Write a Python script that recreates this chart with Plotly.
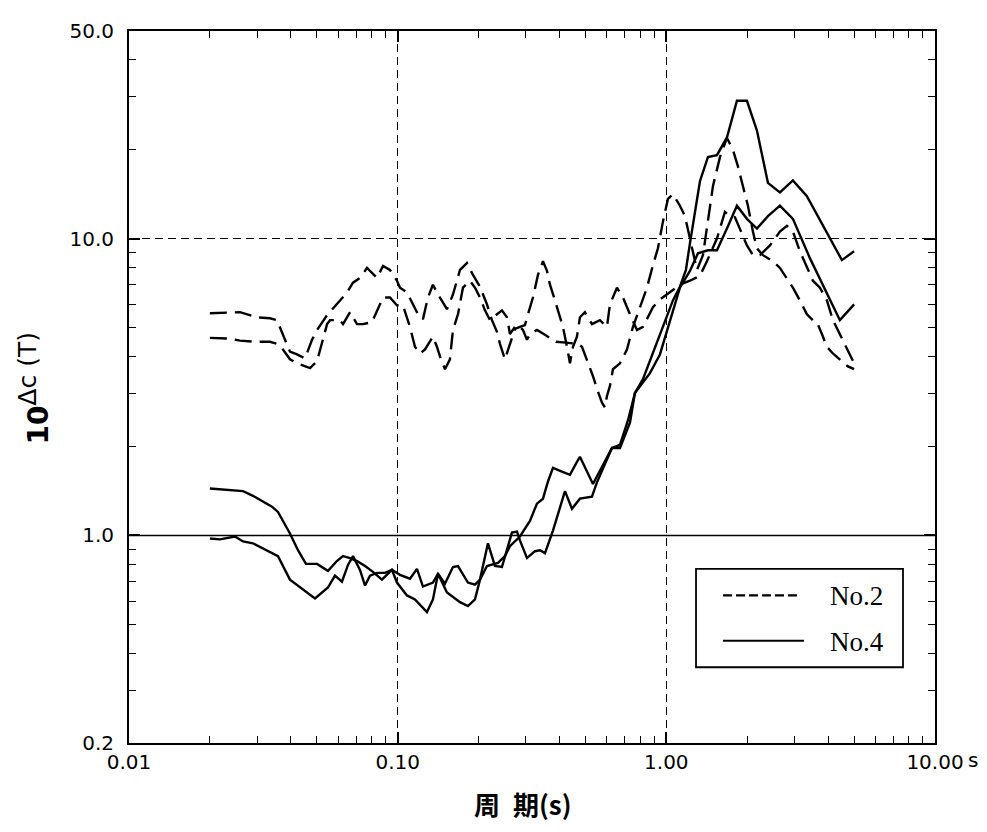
import plotly.graph_objects as go
import math

# ---- data (period in s, 10^dc) ----
no2_a_T = [0.0200, 0.02376, 0.02589, 0.02995, 0.03347, 0.03555, 0.03742, 0.03973, 0.0422, 0.0452,
           0.0480, 0.0501, 0.0546, 0.0594, 0.0648, 0.0682, 0.0724, 0.0769, 0.0838, 0.0882,
           0.0936, 0.0994, 0.1020, 0.1083, 0.1130, 0.1190, 0.1242, 0.1296, 0.1353, 0.1413,
           0.1526, 0.1606, 0.1706, 0.1811, 0.1907, 0.2025, 0.2150, 0.2244, 0.2342, 0.2403,
           0.2508, 0.2618, 0.2732, 0.2852, 0.2977, 0.3055, 0.3188, 0.3328, 0.3474, 0.3595,
           0.3689, 0.3850, 0.4019, 0.4123, 0.4267, 0.4378, 0.4493, 0.4648, 0.4769, 0.4978,
           0.5286, 0.5661, 0.6012, 0.6168, 0.6549, 0.6895, 0.7321, 0.7773, 0.8184, 0.8543,
           0.8916, 0.9466, 1.0051, 1.0581, 1.1236, 1.2242, 1.3339, 1.4163, 1.5431, 1.6525,
           1.7249, 1.8004, 1.8792, 1.9953, 2.1007, 2.2305, 2.4299, 2.6473, 2.8107, 2.9590,
           3.1418, 3.3357, 3.5119, 3.7290, 3.9600, 4.1688, 4.4259, 4.6998, 5.0]
no2_a_v = [5.60, 5.65, 5.65, 5.43, 5.39, 5.31, 4.77, 4.16, 4.07, 3.95,
           4.56, 4.92, 5.52, 6.00, 6.58, 7.10, 7.37, 7.96, 7.37, 8.08,
           7.84, 7.21, 6.83, 6.58, 6.09, 5.56, 5.35, 6.33, 6.99, 6.48,
           5.78, 6.48, 7.84, 8.27, 7.54, 6.88, 6.00, 5.31, 4.85, 4.42,
           3.92, 4.42, 4.96, 5.04, 5.11, 5.56, 6.33, 7.54, 8.39, 7.78,
           6.99, 6.19, 5.43, 5.04, 4.32, 3.80, 4.32, 4.67, 5.43, 5.65,
           5.15, 5.31, 5.04, 6.00, 6.83, 6.33, 5.56, 4.92, 5.04, 5.43,
           5.87, 6.23, 6.48, 6.68, 6.99, 7.21, 7.49, 8.39, 10.0, 12.3,
           11.9, 11.8, 10.8, 9.48, 8.79, 8.79, 9.48, 10.55, 11.04, 10.55,
           9.06, 7.96, 7.21, 6.83, 6.19, 5.31, 4.77, 4.23, 3.80]

no2_b_T = [0.0200, 0.02376, 0.02589, 0.02995, 0.03347, 0.03555, 0.03742, 0.03973, 0.0422, 0.0472,
           0.0501, 0.0527, 0.0546, 0.0560, 0.0610, 0.0626, 0.0665, 0.0706, 0.0743, 0.0802,
           0.0845, 0.0882, 0.0936, 0.0994, 0.1046, 0.1111, 0.1160, 0.1211, 0.1264, 0.1353,
           0.1400, 0.1437, 0.1500, 0.1565, 0.1606, 0.1677, 0.1750, 0.1858, 0.1940, 0.2025,
           0.2113, 0.2206, 0.2342, 0.2444, 0.2551, 0.2618, 0.2732, 0.2804, 0.2927, 0.3029,
           0.3107, 0.3299, 0.3534, 0.3883, 0.4229, 0.4688, 0.4852, 0.5065, 0.5332, 0.5518,
           0.5760, 0.5910, 0.6012, 0.6168, 0.6329, 0.6721, 0.7135, 0.7512, 0.7976, 0.8470,
           0.8916, 0.9305, 0.9713, 1.0138, 1.0581, 1.1236, 1.1728, 1.2242, 1.2561, 1.3000,
           1.3686, 1.4285, 1.4910, 1.5832, 1.6811, 1.7698, 1.8473, 1.9281, 2.0125, 2.1007,
           2.1739, 2.2886, 2.3886, 2.4933, 2.6473, 2.8107, 2.9590, 3.1418, 3.3357, 3.5119,
           3.6343, 3.7935, 3.9600, 4.1688, 4.4259, 4.7402, 5.0]
no2_b_v = [4.63, 4.60, 4.53, 4.49, 4.49, 4.42, 4.23, 3.92, 3.80, 3.66,
           3.86, 4.56, 5.15, 5.31, 5.31, 5.15, 5.65, 5.15, 5.15, 5.23,
           5.78, 6.33, 6.33, 5.96, 5.96, 5.04, 4.32, 4.10, 4.23, 4.67,
           4.32, 4.01, 3.63, 3.92, 4.92, 5.56, 6.83, 7.21, 6.83, 6.33,
           5.73, 5.31, 5.56, 5.73, 5.43, 4.77, 5.04, 5.11, 4.92, 4.56,
           4.77, 4.92, 4.74, 4.49, 4.46, 4.42, 4.32, 3.92, 3.44, 3.12,
           2.80, 2.70, 2.95, 3.19, 3.63, 3.80, 4.23, 5.04, 5.87, 6.83,
           8.14, 9.27, 11.4, 13.6, 14.1, 12.9, 11.9, 10.0, 8.79, 7.84,
           8.79, 11.65, 15.0, 18.8, 21.8, 19.9, 17.5, 15.0, 12.9, 10.55,
           9.27, 8.79, 8.59, 8.39, 7.96, 7.37, 6.83, 6.19, 5.56, 5.31,
           5.23, 4.77, 4.32, 4.10, 3.92, 3.71, 3.63]

no4_a_T = [0.0200, 0.02657, 0.02894, 0.03405, 0.03585, 0.03973, 0.04256, 0.04557, 0.0501, 0.05503,
           0.0594, 0.0626, 0.0665, 0.0706, 0.0756, 0.0809, 0.0874, 0.0952, 0.1020, 0.1111,
           0.1180, 0.1242, 0.1353, 0.1413, 0.1500, 0.1606, 0.1677, 0.1826, 0.1940, 0.2025,
           0.2168, 0.2302, 0.2444, 0.2663, 0.2780, 0.2852, 0.3029, 0.3243, 0.3385, 0.3534,
           0.3785, 0.4195, 0.4454, 0.4769, 0.5286, 0.5518, 0.6275, 0.6721, 0.7196, 0.7641,
           0.8184, 0.9466, 1.0581, 1.1236, 1.1829, 1.2242, 1.2778, 1.3339, 1.4285, 1.5431,
           1.6811, 1.8315, 1.9953, 2.1739, 2.3886, 2.6473, 2.9590, 3.3357, 4.5024, 5.0]
no4_a_v = [1.44, 1.41, 1.36, 1.25, 1.20, 1.015, 0.892, 0.802, 0.802, 0.760,
           0.820, 0.852, 0.839, 0.820, 0.789, 0.754, 0.710, 0.766, 0.737, 0.715,
           0.772, 0.673, 0.694, 0.743, 0.688, 0.783, 0.789, 0.694, 0.683, 0.710,
           0.941, 0.789, 0.783, 1.023, 1.031, 0.963, 0.839, 0.885, 0.892, 0.872,
           1.039, 1.41, 1.23, 1.33, 1.35, 1.51, 1.97, 2.02, 2.44, 3.02,
           3.36, 4.77, 6.19, 6.88, 7.84, 9.63, 12.3, 15.6, 18.8, 19.1,
           21.9, 29.1, 29.1, 23.1, 15.4, 14.3, 15.7, 13.9, 8.46, 9.06]

no4_b_T = [0.0200, 0.02181, 0.0248, 0.02657, 0.02894, 0.03263, 0.03585, 0.03973, 0.04329, 0.04923,
           0.05503, 0.05843, 0.06204, 0.06533, 0.0682, 0.0724, 0.0756, 0.0789, 0.0838, 0.0897,
           0.0952, 0.0994, 0.1083, 0.1160, 0.1285, 0.1353, 0.1413, 0.1526, 0.1706, 0.1826,
           0.1940, 0.2025, 0.2150, 0.2362, 0.2508, 0.2618, 0.2852, 0.3107, 0.3299, 0.3474,
           0.3626, 0.3785, 0.4088, 0.4378, 0.4648, 0.4769, 0.5332, 0.5566, 0.6275, 0.6721,
           0.7321, 0.7641, 0.8690, 0.9466, 1.0313, 1.1236, 1.2242, 1.3112, 1.4285, 1.5431,
           1.6811, 1.8315, 1.9953, 2.1739, 2.3886, 2.6473, 2.9590, 3.4225, 4.4259, 5.0]
no4_b_v = [0.977, 0.970, 0.992, 0.955, 0.941, 0.892, 0.852, 0.710, 0.668, 0.614,
           0.668, 0.732, 0.699, 0.796, 0.852, 0.766, 0.678, 0.732, 0.748, 0.748,
           0.766, 0.694, 0.628, 0.609, 0.552, 0.609, 0.743, 0.643, 0.596, 0.578,
           0.609, 0.710, 0.789, 0.808, 0.852, 0.920, 0.992, 1.12, 1.28, 1.33,
           1.52, 1.69, 1.64, 1.60, 1.77, 1.84, 1.49, 1.60, 1.97, 1.97,
           2.40, 3.02, 3.52, 4.07, 5.31, 6.83, 7.78, 8.92, 9.13, 9.13,
           10.8, 12.9, 11.65, 10.8, 11.9, 12.9, 11.65, 8.59, 5.31, 6.00]

x_tickvals = [0.01, 0.1, 1, 10]
x_ticktext = ["0.01", "0.10", "1.00", "10.00"]
x_minor = [0.02, 0.03, 0.04, 0.05, 0.06, 0.07, 0.08, 0.09,
           0.2, 0.3, 0.4, 0.5, 0.6, 0.7, 0.8, 0.9,
           2, 3, 4, 5, 6, 7, 8, 9]
y_tickvals = [0.2, 1, 10, 50]
y_ticktext = ["0.2", "1.0", "10.0", "50.0"]
y_minor = [0.3, 0.4, 0.5, 0.6, 0.7, 0.8, 0.9, 2, 3, 4, 5, 6, 7, 8, 9, 20, 30, 40]

DATA_DASH = "17px,8px"
series = [
    (no2_a_T, no2_a_v, DATA_DASH),
    (no2_b_T, no2_b_v, DATA_DASH),
    (no4_a_T, no4_a_v, "solid"),
    (no4_b_T, no4_b_v, "solid"),
]

fig = go.Figure()
for T, v, dash in series:
    fig.add_trace(go.Scatter(x=T, y=v, mode="lines",
                             line=dict(color="black", width=2.4, dash=dash),
                             showlegend=False, hoverinfo="skip"))

tickfont = dict(family="DejaVu Sans, sans-serif", size=20, color="black")
axis_common = dict(
    type="log", showline=True, linecolor="black", linewidth=2, mirror="allticks",
    ticks="inside", ticklen=11, tickwidth=1.6, tickcolor="black",
    showgrid=True, gridcolor="black", gridwidth=1.3, griddash="8px,5px",
    zeroline=False, tickfont=tickfont,
)

# page body has an 8px margin; the figure is sized so the plot frame lands at
# x 129..935, y 19..743 of the window
fig.update_layout(
    width=979, height=824,
    margin=dict(l=121, r=52, t=11, b=89),
    paper_bgcolor="white", plot_bgcolor="white",
    showlegend=False,
    xaxis=dict(range=[-2, 1], tickvals=x_tickvals, ticktext=x_ticktext,
               minor=dict(tickvals=x_minor, ticks="inside", ticklen=7, tickwidth=1.3,
                          tickcolor="black", showgrid=False),
               ticklabelstandoff=0, **axis_common),
    yaxis=dict(range=[math.log10(0.2), math.log10(50)], tickvals=y_tickvals, ticktext=y_ticktext,
               minor=dict(tickvals=y_minor, ticks="inside", ticklen=7, tickwidth=1.3,
                          tickcolor="black", showgrid=False),
               ticklabelstandoff=9, **axis_common),
)

# solid reference line at 1.0
fig.add_shape(type="line", xref="paper", x0=0, x1=1, yref="y", y0=1, y1=1,
              line=dict(color="black", width=1.6))

# legend (drawn)
fig.add_shape(type="rect", xref="paper", yref="paper", x0=0.7035, x1=0.9603, y0=0.1064, y1=0.2445,
              line=dict(color="black", width=1.8), fillcolor="white", layer="above")
fig.add_shape(type="line", xref="paper", yref="paper", x0=0.737, x1=0.8337, y0=0.2072, y1=0.2072,
              line=dict(color="black", width=2.2, dash="9px,4px"), layer="above")
fig.add_shape(type="line", xref="paper", yref="paper", x0=0.737, x1=0.8375, y0=0.1436, y1=0.1436,
              line=dict(color="black", width=2.2), layer="above")
legfont = dict(family="Liberation Serif, DejaVu Serif, serif", size=27, color="black")
fig.add_annotation(xref="paper", yref="paper", x=0.8672, y=0.2058, text="No.2", showarrow=False,
                   xanchor="left", yanchor="middle", font=legfont)
fig.add_annotation(xref="paper", yref="paper", x=0.8672, y=0.1422, text="No.4", showarrow=False,
                   xanchor="left", yanchor="middle", font=legfont)

# unit "s" after last x tick label
fig.add_annotation(xref="paper", yref="paper", x=1.0471, y=-0.0235, text="s", showarrow=False,
                   xanchor="center", yanchor="middle", font=tickfont)

# axis titles
fig.add_annotation(xref="paper", yref="paper", x=-0.118, y=0.499, textangle=-90,
                   text="<b>10</b><sup><span style='font-size:25px'>Δc (T)</span></sup>",
                   showarrow=False, xanchor="center", yanchor="middle",
                   font=dict(family="DejaVu Sans, sans-serif", size=28, color="black"))
fig.add_annotation(xref="paper", yref="paper", x=0.4888, y=-0.0856,
                   text="<b>周\u2002期(s)</b>", showarrow=False, xanchor="center", yanchor="middle",
                   font=dict(family="Noto Sans CJK JP", size=26, color="black"))

fig.write_html("out.html")
